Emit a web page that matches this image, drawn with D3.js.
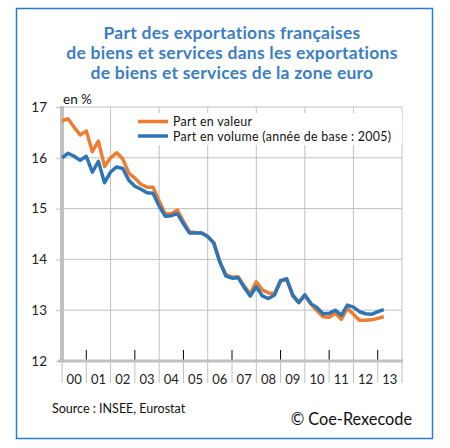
<!DOCTYPE html>
<html>
<head>
<meta charset="utf-8">
<script src="https://cdn.jsdelivr.net/npm/d3@7"></script>
<style>
  body { margin: 0; background: #fff; }
  svg { font-family: Lato, "Open Sans", sans-serif; }
</style>
</head>
<body>
<svg id="chart" width="450" height="448"></svg>
<script>
// Quarterly values, 2000Q1 to 2013Q2
const years = ["00", "01", "02", "03", "04", "05", "06", "07", "08", "09", "10", "11", "12", "13"];
const yTicks = [12, 13, 14, 15, 16, 17];

const valeur = [
  16.72, 16.77, 16.6, 16.45,
  16.53, 16.12, 16.33, 15.83,
  16.0, 16.1, 15.98, 15.7,
  15.6, 15.48, 15.42, 15.42,
  15.15, 14.9, 14.9, 14.97,
  14.75, 14.54, 14.53, 14.52,
  14.45, 14.33, 13.95, 13.7,
  13.65, 13.66, 13.48, 13.32,
  13.56, 13.4, 13.34, 13.33,
  13.58, 13.6, 13.28, 13.15,
  13.3, 13.12, 12.99, 12.87,
  12.86, 12.94, 12.82, 13.04,
  12.92, 12.8, 12.8, 12.81,
  12.84, 12.87
];

const volume = [
  16.0, 16.09, 16.03, 15.95,
  16.03, 15.72, 15.93, 15.51,
  15.72, 15.82, 15.79, 15.56,
  15.44, 15.38, 15.31, 15.3,
  15.05, 14.85, 14.86, 14.9,
  14.7, 14.52, 14.52, 14.52,
  14.45, 14.32, 13.95, 13.67,
  13.63, 13.64, 13.45, 13.28,
  13.46, 13.28, 13.23, 13.3,
  13.58, 13.62, 13.3, 13.15,
  13.3, 13.13, 13.05, 12.93,
  12.94, 13.0, 12.9, 13.1,
  13.06, 12.97, 12.93, 12.92,
  12.97, 13.01
];

const titleLines = [
  "Part des exportations françaises",
  "de biens et services dans les exportations",
  "de biens et services de la zone euro"
];

const orange = "#ed7d31";
const blue = "#2e75b6";
const gridColor = "#c0c0c0";

const svg = d3.select("#chart");

// Frame
svg.append("rect")
  .attr("x", 16.5).attr("y", 8.5)
  .attr("width", 416).attr("height", 430)
  .attr("fill", "none")
  .attr("stroke", "#2b7cc6")
  .attr("stroke-width", 1.5);

// Title
svg.append("g")
  .selectAll("text")
  .data(titleLines)
  .enter()
  .append("text")
  .attr("x", 232)
  .attr("y", (d, i) => 39 + i * 20)
  .attr("text-anchor", "middle")
  .attr("fill", "#3b7ec3")
  .style("font-size", "17.5px")
  .style("font-weight", "bold")
  .style("letter-spacing", "0.25px")
  .text((d) => d);

// Scales
const plotLeft = 62, plotRight = 402, plotTop = 107, plotBottom = 361;
const x = d3.scaleLinear().domain([2000, 2014]).range([plotLeft, plotRight]);
const y = d3.scaleLinear().domain([12, 17]).range([plotBottom, plotTop]);

// Horizontal gridlines
svg.append("g")
  .selectAll("line")
  .data(yTicks.filter((d) => d > 12))
  .enter()
  .append("line")
  .attr("x1", plotLeft).attr("x2", plotRight)
  .attr("y1", (d) => y(d)).attr("y2", (d) => y(d))
  .attr("stroke", gridColor)
  .attr("stroke-width", 1);

// Vertical gridlines, every two years
svg.append("g")
  .selectAll("line")
  .data(d3.range(2002, 2015, 2))
  .enter()
  .append("line")
  .attr("x1", (d) => x(d)).attr("x2", (d) => x(d))
  .attr("y1", plotTop).attr("y2", plotBottom)
  .attr("stroke", gridColor)
  .attr("stroke-width", 1);

// Year separators below the axis
svg.append("g")
  .selectAll("line")
  .data(d3.range(2000, 2015))
  .enter()
  .append("line")
  .attr("x1", (d) => x(d)).attr("x2", (d) => x(d))
  .attr("y1", plotBottom).attr("y2", plotBottom + 22)
  .attr("stroke", gridColor)
  .attr("stroke-width", 1);

// Black ticks at odd years
svg.append("g")
  .selectAll("line")
  .data(d3.range(2001, 2014, 2))
  .enter()
  .append("line")
  .attr("x1", (d) => x(d)).attr("x2", (d) => x(d))
  .attr("y1", plotBottom - 11).attr("y2", plotBottom)
  .attr("stroke", "#000")
  .attr("stroke-width", 1);

// X axis line
svg.append("line")
  .attr("x1", plotLeft - 4).attr("x2", plotRight + 1)
  .attr("y1", plotBottom).attr("y2", plotBottom)
  .attr("stroke", gridColor)
  .attr("stroke-width", 3);

// Y axis bar
svg.append("line")
  .attr("x1", plotLeft).attr("x2", plotLeft)
  .attr("y1", plotTop - 1).attr("y2", plotBottom)
  .attr("stroke", gridColor)
  .attr("stroke-width", 4);

// Y axis labels and ticks
const yAxis = svg.append("g")
  .attr("transform", `translate(${plotLeft - 2},0)`)
  .call(d3.axisLeft(y).tickValues(yTicks).tickFormat(d3.format("d")).tickSize(4).tickPadding(9));
yAxis.select(".domain").remove();
yAxis.selectAll(".tick line").attr("stroke", gridColor);
yAxis.selectAll(".tick text")
  .attr("fill", "#222")
  .style("font-family", "Lato, sans-serif")
  .style("font-size", "13.5px");

// Year labels
svg.append("g")
  .selectAll("text")
  .data(years)
  .enter()
  .append("text")
  .attr("x", (d, i) => x(2000 + i + 0.5))
  .attr("y", plotBottom + 23)
  .attr("text-anchor", "middle")
  .attr("fill", "#222")
  .style("font-size", "13px")
  .text((d) => d);

// Unit
svg.append("text")
  .attr("x", 63).attr("y", 104)
  .attr("fill", "#111")
  .style("font-size", "13.5px")
  .text("en %");

// Lines
const line = d3.line()
  .x((d, i) => x(2000 + i / 4))
  .y((d) => y(d));

svg.append("path")
  .datum(valeur)
  .attr("d", line)
  .attr("fill", "none")
  .attr("stroke", orange)
  .attr("stroke-width", 3.5)
  .attr("stroke-linejoin", "round");

svg.append("path")
  .datum(volume)
  .attr("d", line)
  .attr("fill", "none")
  .attr("stroke", blue)
  .attr("stroke-width", 3.5)
  .attr("stroke-linejoin", "round");

// Legend
const legendItems = [
  { label: "Part en valeur", color: orange },
  { label: "Part en volume (année de base : 2005)", color: blue }
];
svg.append("rect")
  .attr("x", 134).attr("y", 113)
  .attr("width", 268).attr("height", 32)
  .attr("fill", "#fff");
const legend = svg.append("g")
  .selectAll("g")
  .data(legendItems)
  .enter()
  .append("g")
  .attr("transform", (d, i) => `translate(138,${121.5 + i * 14.5})`);
legend.append("line")
  .attr("x1", 0).attr("x2", 30)
  .attr("stroke", (d) => d.color)
  .attr("stroke-width", 3.5);
legend.append("text")
  .attr("x", 35).attr("y", 4.5)
  .attr("fill", "#111")
  .style("font-size", "12.4px")
  .style("letter-spacing", "0.3px")
  .text((d) => d.label);

// Source and copyright
svg.append("text")
  .attr("x", 52).attr("y", 413)
  .attr("fill", "#111")
  .style("font-size", "12.5px")
  .text("Source : INSEE, Eurostat");

svg.append("text")
  .attr("x", 412).attr("y", 425)
  .attr("text-anchor", "end")
  .attr("fill", "#111")
  .style("font-size", "16.3px")
  .text("© Coe-Rexecode");
</script>
</body>
</html>
